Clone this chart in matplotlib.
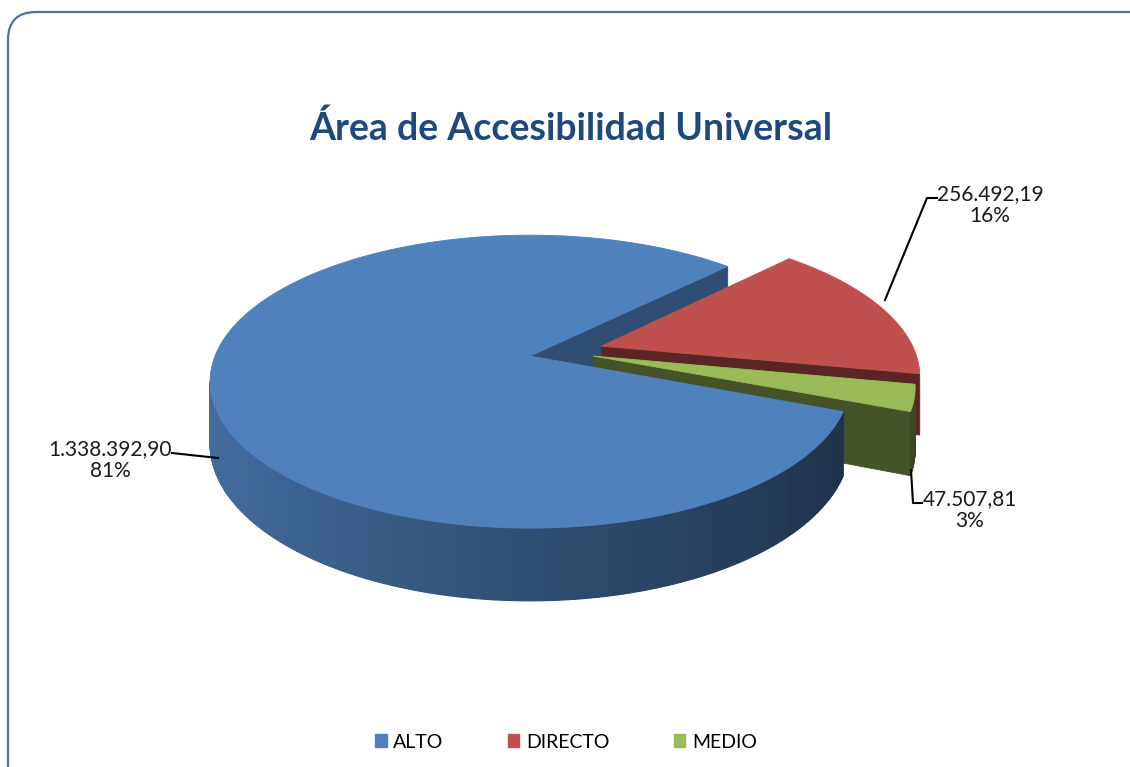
import numpy as np
import matplotlib
matplotlib.use('Agg')
import matplotlib.pyplot as plt
from matplotlib.patches import Polygon, FancyBboxPatch, Patch

# data
categories = ['ALTO', 'DIRECTO', 'MEDIO']
values = [1338392.90, 256492.19, 47507.81]
colors = ['#4F81BD', '#C0504D', '#9BBB59']
explode = [0.0, 0.24, 0.2]
explode_dir = [None, None, 0.0]   # None -> along the slice bisector
title = 'Área de Accesibilidad Universal'

# layout of the 3d pie (pixel coords, y down)
cx, cy = 530, 356
Rx, Ry = 315, 142
k = 0.175          # perspective strength
T = 60             # thickness
start_deg = -21.5  # first slice, going clockwise


def fmt_es(v):
    s = f'{v:,.2f}'
    return s.replace(',', 'X').replace('.', ',').replace('X', '.')


def proj(x, z, h=0.0):
    w = 1 + k * z
    return cx + Rx * x / w, cy - Ry * z / w + T * h / w


def shade(col, f):
    rgb = np.array(matplotlib.colors.to_rgb(col))
    return tuple(np.clip(rgb * f, 0, 1))


fig = plt.figure(figsize=(11.3, 7.67), dpi=100)
ax = fig.add_axes([0, 0, 1, 1])
ax.set_xlim(0, 1130)
ax.set_ylim(767, 0)
ax.axis('off')

# chart border
ax.add_patch(FancyBboxPatch((8, 12), 1150, 800, boxstyle='round,pad=0,rounding_size=28',
                            fc='white', ec='#4F6FA0', lw=1.6, zorder=0))

ax.text(571, 140, title, ha='center', va='baseline', fontsize=27, fontweight='bold',
        family='Lato', color='#1F497D')

total = sum(values)
fracs = [v / total for v in values]
D = 1.0 / k  # camera distance (disk units)

# slice angles (math degrees, counterclockwise); slices go clockwise
slices = []
a = start_deg
for fr, e, ed, col in zip(fracs, explode, explode_dir, colors):
    a_end = a - fr * 360
    lo, hi = a_end, a
    mid = np.radians((lo + hi) / 2) if ed is None else np.radians(ed)
    ox, oz = e * np.cos(mid), e * np.sin(mid)
    slices.append((lo, hi, ox, oz, col))
    a = a_end


def draw_slice(sl, parts, zo):
    lo, hi, ox, oz, col = sl
    t = np.radians(np.linspace(lo, hi, max(int(hi - lo) * 2, 4)))
    if 'cut' in parts:
        for ang, sgn in ((lo, -1), (hi, 1)):
            r = np.radians(ang)
            # outward normal points away from the slice interior
            if sgn > 0:
                nx, nz = -np.sin(r), np.cos(r)
            else:
                nx, nz = np.sin(r), -np.cos(r)
            if nx * (0 - ox) + nz * (-D - oz) <= 0:
                continue
            ex, ez = ox + np.cos(r), oz + np.sin(r)
            pts = [proj(ox, oz, 0), proj(ex, ez, 0), proj(ex, ez, 1), proj(ox, oz, 1)]
            c = shade(col, 0.5 + 0.15 * nx)
            ax.add_patch(Polygon(pts, closed=True, fc=c, ec=c, lw=0.6, zorder=zo))
    if 'wall' in parts:
        for t0, t1 in zip(t[:-1], t[1:]):
            tm = (t0 + t1) / 2
            px, pz = ox + np.cos(tm), oz + np.sin(tm)
            if np.cos(tm) * (0 - px) + np.sin(tm) * (-D - pz) <= 0:
                continue
            x0, z0 = ox + np.cos(t0), oz + np.sin(t0)
            x1, z1 = ox + np.cos(t1), oz + np.sin(t1)
            pts = [proj(x0, z0, 0), proj(x1, z1, 0), proj(x1, z1, 1), proj(x0, z0, 1)]
            c = shade(col, 0.61 - 0.24 * np.cos(tm))
            ax.add_patch(Polygon(pts, closed=True, fc=c, ec=c, lw=0.8, zorder=zo))
    if 'top' in parts:
        pts = [proj(ox, oz, 0)] + [proj(ox + np.cos(tt), oz + np.sin(tt), 0) for tt in t]
        ax.add_patch(Polygon(pts, closed=True, fc=col, ec=col, lw=0.6, zorder=zo))


blue, red, green = slices
draw_slice(blue, ['cut'], 1)
draw_slice(red, ['cut', 'wall'], 2)
draw_slice(red, ['top'], 3)
draw_slice(green, ['cut', 'wall'], 4)
draw_slice(green, ['top'], 5)
draw_slice(blue, ['wall'], 6)
draw_slice(blue, ['top'], 7)

# data labels with leader lines
pct = [f'{round(f * 100):.0f}%' for f in fracs]
lab_pos = [(110, 460), (990, 205), (970, 510)]
leaders = [[(172, 453), (218, 458)],
           [(937, 198), (927, 198), (885, 300)],
           [(922, 503), (913, 503), (911, 470)]]
for v, p, (lx, ly), ln in zip(values, pct, lab_pos, leaders):
    ax.text(lx, ly, f'{fmt_es(v)}\n{p}', ha='center', va='center', fontsize=15,
            family='Lato', color='#1a1a1a', linespacing=1.15, zorder=10)
    xs, ys = zip(*ln)
    ax.plot(xs, ys, color='black', lw=1.5, zorder=9)

handles = [Patch(facecolor=c, edgecolor=c) for c in colors]
fig.legend(handles, categories, loc='center', bbox_to_anchor=(566 / 1130, 1 - 742 / 767),
           ncol=3, frameon=False, prop={'family': 'Lato', 'size': 14},
           handlelength=0.6, handleheight=0.6, handletextpad=0.35, columnspacing=3.3)

fig.savefig('out.png', dpi=100, facecolor='white')
